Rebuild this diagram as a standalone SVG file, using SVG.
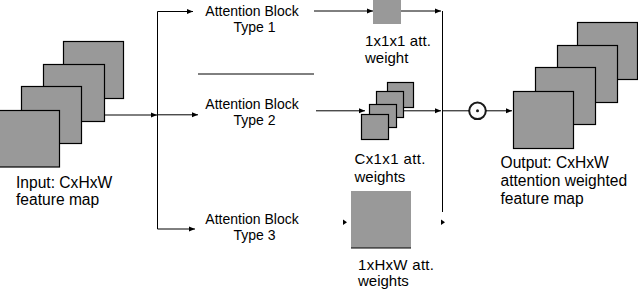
<svg xmlns="http://www.w3.org/2000/svg" width="638" height="290" viewBox="0 0 638 290">
<style>
.sq{fill:#999;stroke:#000;stroke-width:1.2}
.sqn{fill:#999;stroke:none}
.ln{fill:none;stroke:#000;stroke-width:1}
.t{font-family:"Liberation Sans",Arial,sans-serif;fill:#000}
.t14{font-size:14px}
.t15{font-size:15px}
.t16{font-size:15.6px}
.ah{fill:#000}
</style>
<defs>
<marker id="arr" markerUnits="userSpaceOnUse" markerWidth="6" markerHeight="6" refX="6" refY="3" orient="auto">
<path d="M0,0.5 L6,3 L0,5.5 z" fill="#000"/>
</marker>
</defs>
<rect width="638" height="290" fill="#fff"/>

<g id="input">
<rect class="sq" x="63.5" y="41.5" width="60" height="57"/>
<rect class="sq" x="43.5" y="64.5" width="61" height="57"/>
<rect class="sq" x="21.5" y="86.5" width="60" height="57"/>
<rect class="sq" x="-1" y="110.5" width="60.5" height="56.5"/>
<text class="t t16" x="16" y="187.5">Input: CxHxW</text>
<text class="t t16" x="16" y="204.5">feature map</text>
</g>

<g id="block1">
<text class="t t14" x="252" y="15.5" text-anchor="middle">Attention Block</text>
<text class="t t14" x="254.5" y="32" text-anchor="middle">Type 1</text>
</g>
<g id="block2">
<text class="t t14" x="252" y="108.5" text-anchor="middle">Attention Block</text>
<text class="t t14" x="254.5" y="125" text-anchor="middle">Type 2</text>
</g>
<g id="block3">
<text class="t t14" x="252" y="223.5" text-anchor="middle">Attention Block</text>
<text class="t t14" x="254.5" y="239.5" text-anchor="middle">Type 3</text>
</g>

<g id="weight1">
<rect class="sqn" x="373" y="-4" width="28" height="28"/>
<text class="t t15" x="365" y="45.5" textLength="66" lengthAdjust="spacing">1x1x1 att.</text>
<text class="t t15" x="365" y="63">weight</text>
</g>

<g id="weight2">
<rect class="sq" x="387.5" y="82.5" width="26" height="25"/>
<rect class="sq" x="376.5" y="91.5" width="27" height="26"/>
<rect class="sq" x="369.5" y="104.5" width="27" height="23"/>
<rect class="sq" x="361.5" y="114.5" width="27" height="25"/>
<text class="t t15" x="354.5" y="164" textLength="71" lengthAdjust="spacing">Cx1x1 att.</text>
<text class="t t15" x="354.5" y="181.5">weights</text>
</g>

<g id="weight3">
<rect class="sqn" x="351" y="191" width="60" height="57"/>
<line x1="351" y1="248" x2="411" y2="248" stroke="#000" stroke-width="1.2"/>
<text class="t t15" x="358" y="269.5" textLength="76" lengthAdjust="spacing">1xHxW att.</text>
<text class="t t15" x="358" y="286">weights</text>
</g>

<g id="multiply">
<circle cx="477.5" cy="110.8" r="8.3" fill="#fff" stroke="#1a1a1a" stroke-width="2"/>
<circle cx="477.5" cy="110.8" r="1.5" fill="#1a1a1a"/>
</g>

<g id="output">
<rect class="sq" x="577.5" y="22.5" width="60" height="57"/>
<rect class="sq" x="557.5" y="45.5" width="60" height="57"/>
<rect class="sq" x="535.5" y="67.5" width="60" height="57"/>
<rect class="sq" x="513.5" y="91.5" width="60" height="57"/>
<text class="t t16" x="500.5" y="168">Output: CxHxW</text>
<text class="t t16" x="500.5" y="186">attention weighted</text>
<text class="t t16" x="500.5" y="204">feature map</text>
</g>

<g id="connectors">
<path class="ln" d="M105,115 H157" marker-end="url(#arr)"/>
<path class="ln" d="M157.5,11.5 V229"/>
<path class="ln" d="M157.5,11.5 H193" marker-end="url(#arr)"/>
<path class="ln" d="M157.5,114.8 H198" marker-end="url(#arr)"/>
<path class="ln" d="M157.5,229 H195" marker-end="url(#arr)"/>
<path class="ln" d="M198,74 H314"/>
<path class="ln" d="M314,11 H373" marker-end="url(#arr)"/>
<path class="ln" d="M401,11 H441" marker-end="url(#arr)"/>
<path class="ln" d="M442.5,11 V212"/>
<path class="ln" d="M316,110.8 H365" marker-end="url(#arr)"/>
<path class="ln" d="M404,110.8 H441" marker-end="url(#arr)"/>
<path class="ln" d="M442,110.8 H469"/>
<path class="ln" d="M486,110.8 H512" marker-end="url(#arr)"/>
<path class="ah" d="M343,219.5 L347,222.3 L343,225 z"/>
<path class="ah" d="M441,219.5 L445,222.3 L441,225 z"/>
</g>
</svg>
